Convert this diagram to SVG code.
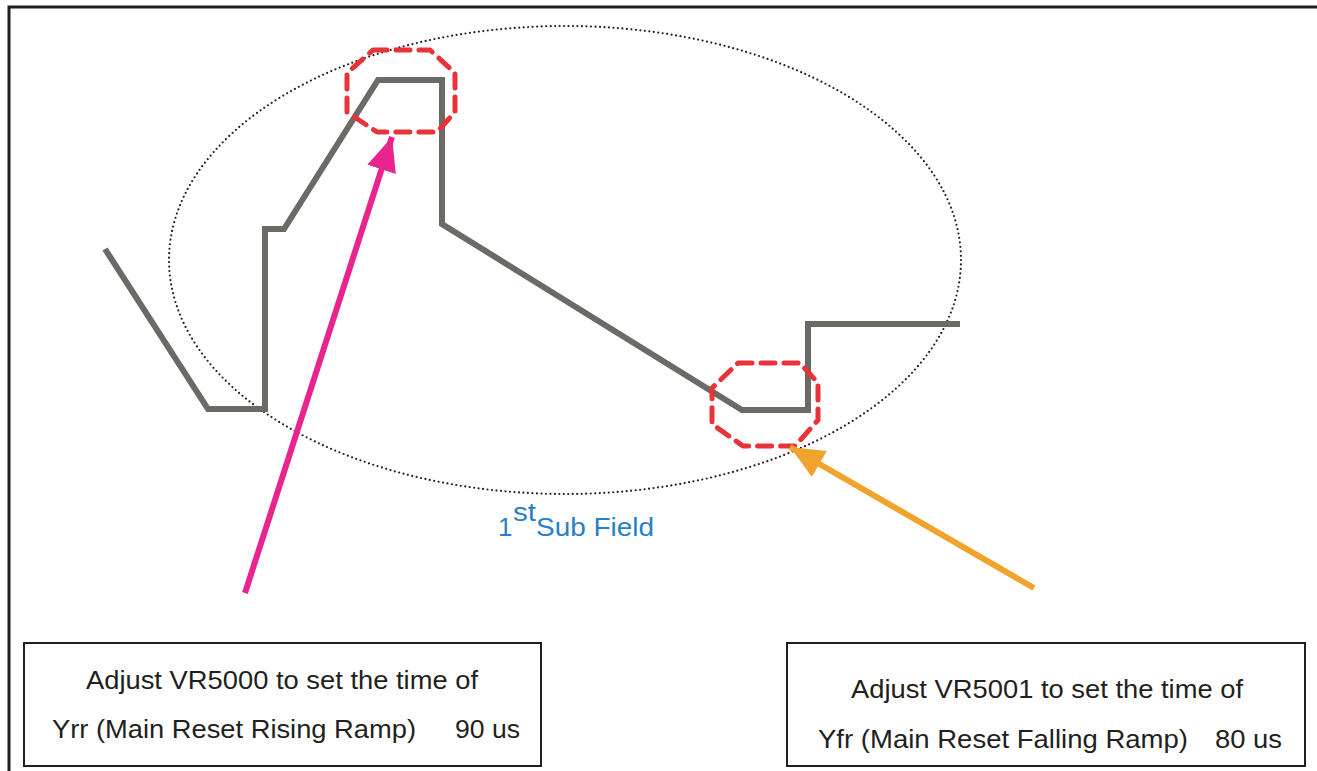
<svg xmlns="http://www.w3.org/2000/svg" width="1317" height="771" viewBox="0 0 1317 771">
<style>
.t{font-family:"Liberation Sans",Arial,sans-serif;font-size:26.5px;fill:#231f20}
.box{fill:#fff;stroke:#231f20;stroke-width:2}
.oct{fill:none;stroke:#e8333a;stroke-width:5;stroke-dasharray:14 9;stroke-linecap:round;stroke-linejoin:round}
.sf{font-family:"Liberation Sans",Arial,sans-serif;fill:#2a7fc7}
</style>
<defs>
<marker id="hp" markerUnits="userSpaceOnUse" markerWidth="40" markerHeight="40" refX="34" refY="15" orient="auto"><path d="M0,0 L34,15 L0,30 Z" fill="#e8258f"/></marker>
<marker id="ho" markerUnits="userSpaceOnUse" markerWidth="40" markerHeight="40" refX="34" refY="15" orient="auto"><path d="M0,0 L34,15 L0,30 Z" fill="#f0a42c"/></marker>
</defs>
<rect width="1317" height="771" fill="#fff"/>
<g id="frame" fill="none" stroke="#231f20" stroke-width="3">
<path d="M9,771 V7 H1317"/>
</g>
<g id="subfield">
<ellipse cx="565" cy="260" rx="396" ry="234" fill="none" stroke="#231f20" stroke-width="2.2" stroke-dasharray="0 4.5" stroke-linecap="round"/>
<text class="sf" x="498" y="536" font-size="26">1</text>
<text class="sf" x="513" y="521" font-size="25" textLength="23" lengthAdjust="spacingAndGlyphs">st</text>
<text class="sf" x="536" y="536" font-size="26" textLength="118" lengthAdjust="spacingAndGlyphs">Sub Field</text>
</g>
<g id="waveform">
<polyline points="105,249 208,409 265,409 265,229 284,229 378,80 442,80 442,224 742,410 808,410 808,324 960,324" fill="none" stroke="#6b6a64" stroke-width="6"/>
</g>
<g id="mark-rising">
<polygon class="oct" points="373,50 430,50 455,73 455,112 437,132 377,132 347,112 347,73"/>
</g>
<g id="mark-falling">
<polygon class="oct" points="738,363 800,363 818,383 818,420 795,446 743,446 712,424 712,388"/>
</g>
<g id="connectors">
<line x1="245" y1="593" x2="392" y2="137" stroke="#e8258f" stroke-width="6" marker-end="url(#hp)"/>
<line x1="1034" y1="588" x2="790" y2="447" stroke="#f0a42c" stroke-width="6" marker-end="url(#ho)"/>
</g>
<g id="box-vr5000">
<rect class="box" x="24" y="643" width="517" height="123"/>
<text class="t" x="86" y="689" textLength="392" lengthAdjust="spacingAndGlyphs">Adjust VR5000 to set the time of</text>
<text class="t" x="52" y="738" textLength="364" lengthAdjust="spacingAndGlyphs">Yrr (Main Reset Rising Ramp)</text>
<text class="t" x="455" y="738" textLength="65" lengthAdjust="spacingAndGlyphs">90 us</text>
</g>
<g id="box-vr5001">
<rect class="box" x="787" y="643" width="518" height="123"/>
<text class="t" x="851" y="698" textLength="392" lengthAdjust="spacingAndGlyphs">Adjust VR5001 to set the time of</text>
<text class="t" x="818" y="748" textLength="370" lengthAdjust="spacingAndGlyphs">Yfr (Main Reset Falling Ramp)</text>
<text class="t" x="1215" y="748" textLength="67" lengthAdjust="spacingAndGlyphs">80 us</text>
</g>
</svg>
